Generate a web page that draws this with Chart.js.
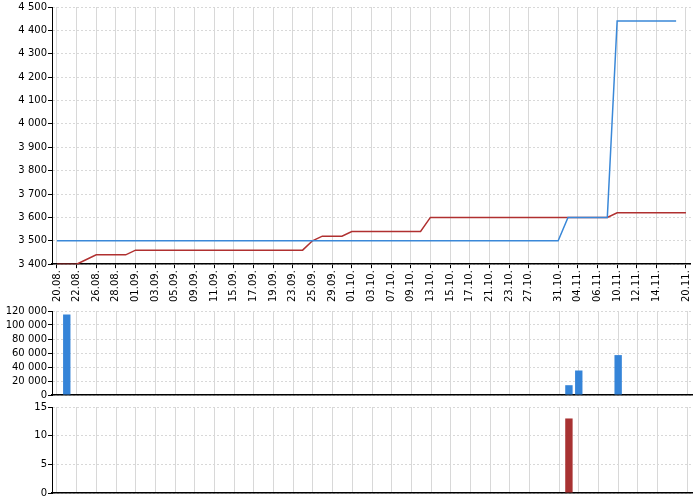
<!DOCTYPE html>
<html><head><meta charset="utf-8">
<script src="https://cdn.jsdelivr.net/npm/chart.js@4"></script>
<style>
body{margin:0;background:#fff;}
canvas{position:absolute;left:0;}
</style></head><body>
<canvas id="c1" style="top:0;width:700px;height:306px" width="700" height="306"></canvas>
<canvas id="c2" style="top:304px;width:700px;height:98px" width="700" height="98"></canvas>
<canvas id="c3" style="top:400px;width:700px;height:100px" width="700" height="100"></canvas>
<script>
// categories (every other one is shown as a tick label)
const dates = ['20.08.','21.08.','22.08.','24.08.','26.08.','27.08.','28.08.','30.08.','01.09.','02.09.','03.09.','04.09.','05.09.','07.09.','09.09.','10.09.','11.09.','13.09.','15.09.','16.09.','17.09.','18.09.','19.09.','21.09.','23.09.','24.09.','25.09.','27.09.','29.09.','30.09.','01.10.','02.10.','03.10.','05.10.','07.10.','08.10.','09.10.','11.10.','13.10.','14.10.','15.10.','16.10.','17.10.','19.10.','21.10.','22.10.','23.10.','25.10.','27.10.','29.10.','30.10.','31.10.','02.11.','04.11.','05.11.','06.11.','08.11.','10.11.','11.11.','12.11.','13.11.','14.11.','16.11.','18.11.','20.11.'];
const shown = ['20.08.','22.08.','26.08.','28.08.','01.09.','03.09.','05.09.','09.09.','11.09.','15.09.','17.09.','19.09.','23.09.','25.09.','29.09.','01.10.','03.10.','07.10.','09.10.','13.10.','15.10.','17.10.','21.10.','23.10.','27.10.','31.10.','04.11.','06.11.','10.11.','12.11.','14.11.','20.11.'];

const blueLine = [3500,3500,3500,3500,3500,3500,3500,3500,3500,3500,3500,3500,3500,3500,3500,3500,3500,3500,3500,3500,3500,3500,3500,3500,3500,3500,3500,3500,3500,3500,3500,3500,3500,3500,3500,3500,3500,3500,3500,3500,3500,3500,3500,3500,3500,3500,3500,3500,3500,3500,3500,3500,3600,3600,3600,3600,3600,4440,4440,4440,4440,4440,4440,4440,null];
const redLine = [3400,3400,3400,3420,3440,3440,3440,3440,3460,3460,3460,3460,3460,3460,3460,3460,3460,3460,3460,3460,3460,3460,3460,3460,3460,3460,3500,3520,3520,3520,3540,3540,3540,3540,3540,3540,3540,3540,3600,3600,3600,3600,3600,3600,3600,3600,3600,3600,3600,3600,3600,3600,3600,3600,3600,3600,3600,3620,3620,3620,3620,3620,3620,3620,3620];
const blueBars = {'21.08.':115000,'02.11.':14000,'04.11.':35000,'10.11.':57000};
const redBars = {'02.11.':13};

const FONT = {family:'DejaVu Sans', size:10};
const GRID = '#d8d8d8';
const fmt = v => String(v).replace(/\B(?=(\d{3})+(?!\d))/g, ' ');
const isShown = i => shown.includes(dates[i]);

function xAxis(labels) {
  return {
    offset: true,
    grid: {offset: false, color: c => isShown(c.index) ? GRID : 'rgba(0,0,0,0)', drawTicks: labels, tickLength: 4, tickColor: c => isShown(c.index) ? '#000' : 'rgba(0,0,0,0)'},
    border: {color: '#000', width: 1.5, dash: []},
    ticks: {
      display: labels, autoSkip: false, maxRotation: 90, minRotation: 90, color: '#000', font: FONT, padding: 2,
      callback: (v, i) => isShown(i) ? dates[i] : ''
    }
  };
}
function yAxis(min, max, step) {
  return {
    min, max,
    afterFit: s => { s.width = 52; },
    grid: {color: GRID, tickLength: 4, tickColor: '#000'},
    border: {color: '#000', dash: [2, 2]},
    ticks: {stepSize: step, autoSkip: false, color: '#000', font: FONT, padding: 1, callback: v => fmt(v)}
  };
}
Chart.defaults.animation = false;
Chart.defaults.responsive = false;
const base = (extra) => ({plugins: {legend: {display: false}, tooltip: {enabled: false}}, layout: {padding: {right: 8, top: 5, bottom: 2}}, ...extra});

new Chart(document.getElementById('c1'), {
  type: 'line',
  data: {labels: dates, datasets: [
    {data: blueLine, borderColor: '#3a88d8', borderWidth: 1.5, pointRadius: 0, tension: 0},
    {data: redLine, borderColor: '#b03030', borderWidth: 1.5, pointRadius: 0, tension: 0}
  ]},
  options: base({scales: {x: xAxis(true), y: yAxis(3400, 4500, 100)}})
});

const barOpts = {categoryPercentage: 1, barPercentage: 0.75, borderWidth: 0};
new Chart(document.getElementById('c2'), {
  type: 'bar',
  data: {labels: dates, datasets: [{data: dates.map(d => blueBars[d] ?? null), backgroundColor: '#3584d8', ...barOpts}]},
  options: base({scales: {x: xAxis(false), y: yAxis(0, 120000, 20000)}})
});
new Chart(document.getElementById('c3'), {
  type: 'bar',
  data: {labels: dates, datasets: [{data: dates.map(d => redBars[d] ?? null), backgroundColor: '#a83232', ...barOpts}]},
  options: base({scales: {x: xAxis(false), y: yAxis(0, 15, 5)}})
});
</script></body></html>
